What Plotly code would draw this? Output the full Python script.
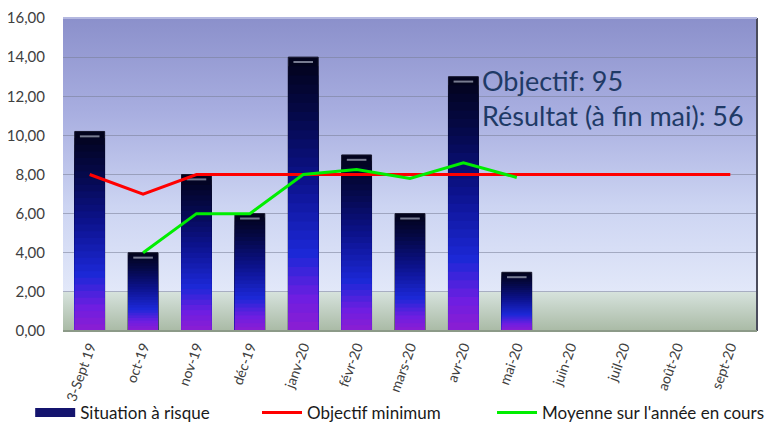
import base64
import plotly.graph_objects as go

categories = ["3-Sept 19", "oct-19", "nov-19", "déc-19", "janv-20", "févr-20", "mars-20",
              "avr-20", "mai-20", "juin-20", "juil-20", "août-20", "sept-20"]
situation_a_risque = [10.2, 4, 8, 6, 14, 9, 6, 13, 3, None, None, None, None]
objectif_minimum = [8, 7, 8, 8, 8, 8, 8, 8, 8, 8, 8, 8, 8]
moyenne_annee = [None, 4, 6, 6, 8, 8.25, 7.8, 8.6, 7.85, None, None, None, None]
y_ticks = [0, 2, 4, 6, 8, 10, 12, 14, 16]
note_lines = ["Objectif: 95", "Résultat (à fin mai): 56"]

FONT = "Lato, 'Noto Sans', sans-serif"

# gradient for bars: (fraction of bar height from bottom, color)
stops = [(0.0, (140, 30, 210)), (0.12, (110, 30, 225)), (0.28, (28, 40, 215)),
         (0.55, (12, 18, 140)), (0.8, (5, 8, 70)), (1.0, (2, 2, 25))]


def color_at(f):
    for (f0, c0), (f1, c1) in zip(stops, stops[1:]):
        if f0 <= f <= f1:
            t = (f - f0) / (f1 - f0)
            return "rgb(%d,%d,%d)" % tuple(round(a + (b - a) * t) for a, b in zip(c0, c1))
    return "rgb(%d,%d,%d)" % stops[-1][1]


fig = go.Figure()

N = 30
BW = 0.56
for i in range(N, 0, -1):
    f = i / N
    mid = (i - 0.5) / N
    fig.add_trace(go.Bar(
        x=categories,
        y=[v * f if v is not None else None for v in situation_a_risque],
        width=BW,
        marker=dict(color=color_at(mid),
                    line=dict(color="#15152a" if i == N else "rgba(0,0,0,0)", width=1 if i == N else 0)),
        showlegend=False, hoverinfo="skip",
    ))

# small highlight near the top of each bar
fig.add_trace(go.Scatter(
    x=categories,
    y=[v - 0.25 if v is not None else None for v in situation_a_risque],
    mode="markers",
    marker=dict(symbol="line-ew", size=14, line=dict(color="rgba(140,145,165,0.85)", width=2)),
    showlegend=False, hoverinfo="skip",
))

# legend proxy for bars
fig.add_trace(go.Scatter(
    x=[None], y=[None], mode="lines", name="Situation à risque",
    line=dict(color="#14146e", width=9), legend="legend",
))

fig.add_trace(go.Scatter(
    x=categories, y=objectif_minimum, mode="lines", name="Objectif minimum",
    line=dict(color="#ff0000", width=3), legend="legend2",
))
fig.add_trace(go.Scatter(
    x=categories, y=moyenne_annee, mode="lines", name="Moyenne sur l'année en cours",
    line=dict(color="#00ee00", width=3), legend="legend3",
))

svg = """<svg xmlns='http://www.w3.org/2000/svg' width='100' height='100' preserveAspectRatio='none'>
<defs><linearGradient id='g' x1='0' y1='0' x2='0' y2='1'>
<stop offset='0' stop-color='#8b90cb'/>
<stop offset='0.3' stop-color='#a8aee0'/>
<stop offset='0.6' stop-color='#ccd4f2'/>
<stop offset='0.874' stop-color='#e2e8f9'/>
<stop offset='0.876' stop-color='#d6e2dc'/>
<stop offset='1' stop-color='#a9baa5'/>
</linearGradient></defs>
<rect width='100' height='100' fill='url(#g)'/></svg>"""
src = "data:image/svg+xml;base64," + base64.b64encode(svg.encode()).decode()


def legend_at(x):
    return dict(orientation="h", xref="container", yref="container",
                x=x, xanchor="left", y=0.029, yanchor="middle",
                font=dict(size=17, color="#1a1a1a", family=FONT),
                bgcolor="rgba(0,0,0,0)", itemwidth=40)


# page body has an 8px margin, so the figure is sized to end at the window edge
fig.update_layout(
    width=765, height=417,
    margin=dict(l=55, r=16, t=10, b=94, autoexpand=False),
    paper_bgcolor="white",
    plot_bgcolor="rgba(0,0,0,0)",
    barmode="overlay",
    separators=", ",
    font=dict(family=FONT, color="#404040", size=15),
    images=[dict(source=src, xref="paper", yref="paper", x=0, y=1, sizex=1, sizey=1,
                 sizing="stretch", layer="below", xanchor="left", yanchor="top")],
    xaxis=dict(type="category", categoryorder="array", categoryarray=categories,
               tickangle=-70, showgrid=False, zeroline=False, showline=False,
               automargin=False, ticks="", ticklabelstandoff=4,
               tickfont=dict(size=14, color="#404040"), range=[-0.5, 12.5]),
    yaxis=dict(range=[0, 16], tickvals=y_ticks, tickformat=".2f",
               showgrid=True, gridcolor="rgba(120,125,150,0.55)", gridwidth=1,
               zeroline=False, showline=False, ticks="", ticklabelstandoff=17,
               automargin=False, ticklabeloverflow="allow",
               tickfont=dict(size=15, color="#404040")),
    legend=legend_at(0.029),
    legend2=legend_at(0.3255),
    legend3=legend_at(0.6327),
    shapes=[
        dict(type="line", xref="paper", yref="paper", x0=1, x1=1, y0=0, y1=1,
             line=dict(color="#4a4c5c", width=2)),
        dict(type="line", xref="paper", yref="paper", x0=0, x1=1, y0=0, y1=0,
             line=dict(color="#8c9a88", width=2)),
        dict(type="line", xref="paper", yref="paper", x0=0, x1=1, y0=1, y1=1,
             line=dict(color="#b4b8e0", width=2)),
    ],
    annotations=[
        dict(text=note_lines[0], xref="paper", yref="paper", x=0.601, y=0.8,
             xanchor="left", yanchor="middle", showarrow=False,
             font=dict(size=27, color="#1f3a66", family=FONT)),
        dict(text=note_lines[1], xref="paper", yref="paper", x=0.601, y=0.69,
             xanchor="left", yanchor="middle", showarrow=False,
             font=dict(size=27, color="#1f3a66", family=FONT)),
    ],
)

fig.write_html("out.html")
